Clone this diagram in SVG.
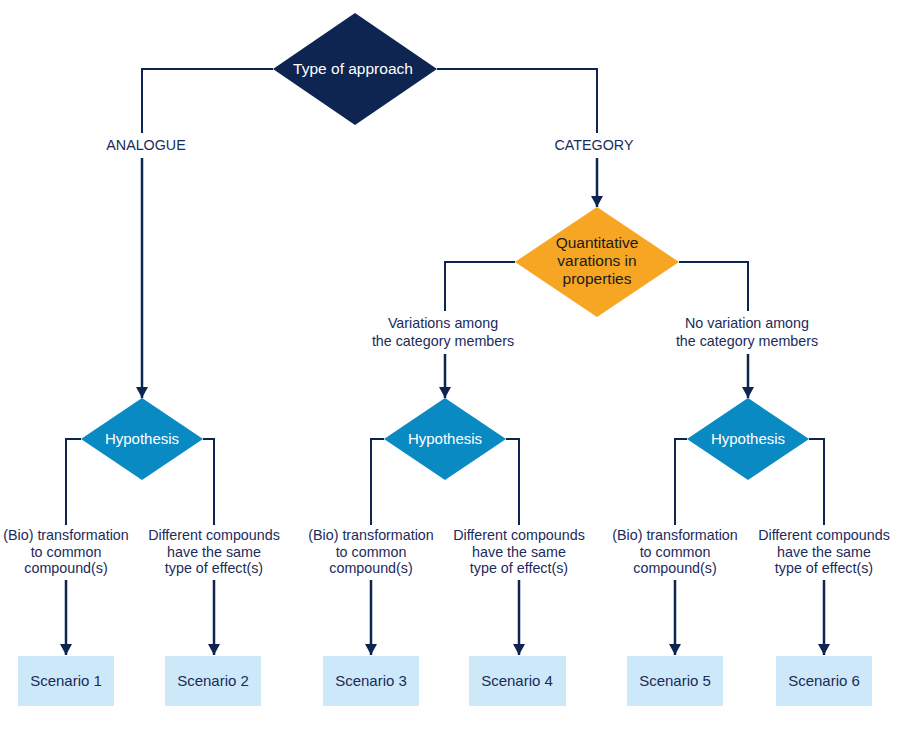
<svg xmlns="http://www.w3.org/2000/svg" width="904" height="740" viewBox="0 0 904 740">
<defs>
<marker id="ah" markerWidth="12" markerHeight="12" refX="11" refY="6" orient="auto" markerUnits="userSpaceOnUse" viewBox="0 0 12 12">
<path d="M0,0 L11,6 L0,12 Z" fill="#0e2451"/>
</marker>
</defs>
<style>
.ln{fill:none;stroke:#0e2451;stroke-width:2}
.ar{fill:none;stroke:#0e2451;stroke-width:2.5}
.lbl{font-family:"Liberation Sans",Arial,sans-serif;font-size:14.3px;fill:#1b2b5b;text-anchor:middle}
.hyp{fill:#0a8ac3}
.hypt{font-family:"Liberation Sans",Arial,sans-serif;font-size:15px;fill:#ffffff;text-anchor:middle}
.box{fill:#cde9f9}
.boxt{font-family:"Liberation Sans",Arial,sans-serif;font-size:15px;fill:#1b2b5b;text-anchor:middle}
</style>
<rect width="904" height="740" fill="#ffffff"/>
<g id="connectors">
<polyline class="ln" points="273,69 142,69 142,133"/>
<polyline class="ln" points="437,69 597,69 597,133"/>
<line class="ar" x1="142" y1="158" x2="142" y2="398" marker-end="url(#ah)"/>
<line class="ar" x1="597" y1="158" x2="597" y2="207" marker-end="url(#ah)"/>
<polyline class="ln" points="515,262 445,262 445,311"/>
<polyline class="ln" points="679,262 748,262 748,311"/>
<line class="ar" x1="445" y1="354" x2="445" y2="398" marker-end="url(#ah)"/>
<line class="ar" x1="748" y1="354" x2="748" y2="398" marker-end="url(#ah)"/>
<polyline class="ln" points="81,439 66,439 66,525"/>
<polyline class="ln" points="203,439 214,439 214,525"/>
<polyline class="ln" points="384,439 371,439 371,525"/>
<polyline class="ln" points="506,439 519,439 519,525"/>
<polyline class="ln" points="687,439 675,439 675,525"/>
<polyline class="ln" points="809,439 824,439 824,525"/>
<line class="ar" x1="66" y1="580" x2="66" y2="655" marker-end="url(#ah)"/>
<line class="ar" x1="214" y1="580" x2="214" y2="655" marker-end="url(#ah)"/>
<line class="ar" x1="371" y1="580" x2="371" y2="655" marker-end="url(#ah)"/>
<line class="ar" x1="519" y1="580" x2="519" y2="655" marker-end="url(#ah)"/>
<line class="ar" x1="675" y1="580" x2="675" y2="655" marker-end="url(#ah)"/>
<line class="ar" x1="824" y1="580" x2="824" y2="655" marker-end="url(#ah)"/>
<text class="lbl" x="146" y="150">ANALOGUE</text>
<text class="lbl" x="594" y="150">CATEGORY</text>
<text class="lbl" x="443" y="328">Variations among</text>
<text class="lbl" x="443" y="346">the category members</text>
<text class="lbl" x="747" y="328">No variation among</text>
<text class="lbl" x="747" y="346">the category members</text>
<text class="lbl" x="66" y="540">(Bio) transformation</text>
<text class="lbl" x="66" y="557">to common</text>
<text class="lbl" x="66" y="573">compound(s)</text>
<text class="lbl" x="214" y="540">Different compounds</text>
<text class="lbl" x="214" y="557">have the same</text>
<text class="lbl" x="214" y="573">type of effect(s)</text>
<text class="lbl" x="371" y="540">(Bio) transformation</text>
<text class="lbl" x="371" y="557">to common</text>
<text class="lbl" x="371" y="573">compound(s)</text>
<text class="lbl" x="519" y="540">Different compounds</text>
<text class="lbl" x="519" y="557">have the same</text>
<text class="lbl" x="519" y="573">type of effect(s)</text>
<text class="lbl" x="675" y="540">(Bio) transformation</text>
<text class="lbl" x="675" y="557">to common</text>
<text class="lbl" x="675" y="573">compound(s)</text>
<text class="lbl" x="824" y="540">Different compounds</text>
<text class="lbl" x="824" y="557">have the same</text>
<text class="lbl" x="824" y="573">type of effect(s)</text>
</g>
<g id="type-of-approach">
<polygon points="355,13 437,69 355,125 273,69" fill="#0e2451"/>
<text x="353" y="74" font-family="Liberation Sans, Arial, sans-serif" font-size="15.5" fill="#ffffff" text-anchor="middle">Type of approach</text>
</g>
<g id="quantitative">
<polygon points="597,207 679,262 597,317 515,262" fill="#f6a623"/>
<text font-family="Liberation Sans, Arial, sans-serif" font-size="15.5" fill="#1a1a1a" text-anchor="middle"><tspan x="597" y="248">Quantitative</tspan><tspan x="597" y="266">varations in</tspan><tspan x="597" y="284">properties</tspan></text>
</g>
<g id="hypothesis-1">
<polygon class="hyp" points="142,398 203,439 142,480 81,439"/>
<text class="hypt" x="142" y="444">Hypothesis</text>
</g>
<g id="hypothesis-2">
<polygon class="hyp" points="445,398 506,439 445,480 384,439"/>
<text class="hypt" x="445" y="444">Hypothesis</text>
</g>
<g id="hypothesis-3">
<polygon class="hyp" points="748,398 809,439 748,480 687,439"/>
<text class="hypt" x="748" y="444">Hypothesis</text>
</g>
<g id="scenario-1"><rect class="box" x="18" y="656" width="96" height="50"/><text class="boxt" x="66" y="686">Scenario 1</text></g>
<g id="scenario-2"><rect class="box" x="165" y="656" width="96" height="50"/><text class="boxt" x="213" y="686">Scenario 2</text></g>
<g id="scenario-3"><rect class="box" x="323" y="656" width="96" height="50"/><text class="boxt" x="371" y="686">Scenario 3</text></g>
<g id="scenario-4"><rect class="box" x="469" y="656" width="97" height="50"/><text class="boxt" x="517" y="686">Scenario 4</text></g>
<g id="scenario-5"><rect class="box" x="627" y="656" width="96" height="50"/><text class="boxt" x="675" y="686">Scenario 5</text></g>
<g id="scenario-6"><rect class="box" x="776" y="656" width="96" height="50"/><text class="boxt" x="824" y="686">Scenario 6</text></g>
</svg>
